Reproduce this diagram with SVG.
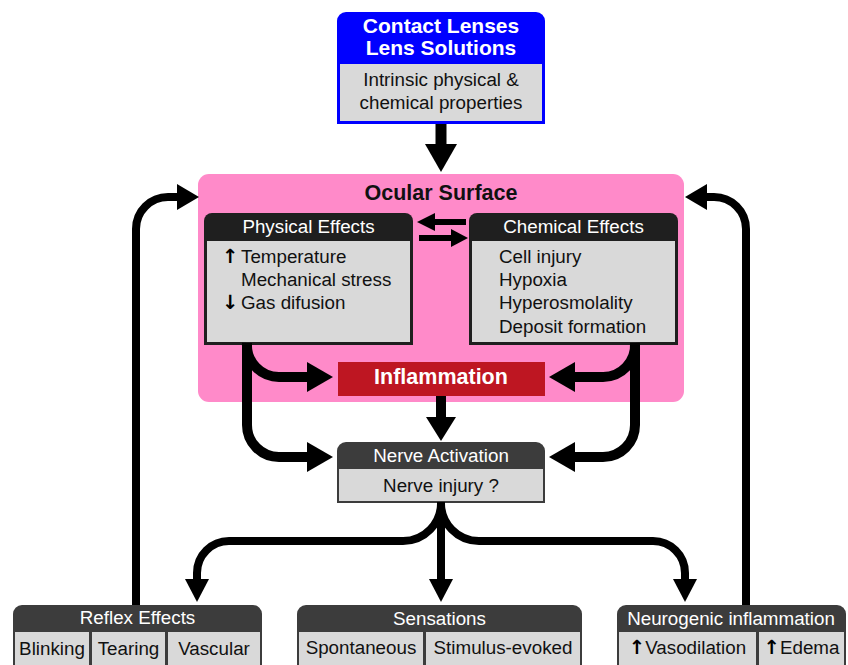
<svg xmlns="http://www.w3.org/2000/svg" width="848" height="665" viewBox="0 0 848 665">
<style>
text{font-family:"Liberation Sans",Arial,sans-serif;font-size:18.8px;fill:#111}
.hd{fill:#fff;text-anchor:middle}
.bt{fill:#fff;font-weight:bold;font-size:21.5px;text-anchor:middle}
.c{text-anchor:middle}
.cell{fill:#d9d9d9}
.dark1{fill:#1f1f1f}
.dark2{fill:#3c3c3c}
.ar{font-family:"DejaVu Sans",sans-serif;font-weight:bold;font-size:19.5px;fill:#000}
.sh{fill:none;stroke:#000;stroke-width:10}
.sh2{fill:none;stroke:#000;stroke-width:8}
.hdp{fill:#000}
</style>
<rect width="848" height="665" fill="#fff"/>

<g id="ocular-surface">
<rect x="198" y="174" width="486" height="228" rx="11" fill="#ff8ac9"/>
<text x="441" y="200" class="c" style="font-weight:bold;font-size:21.5px">Ocular Surface</text>
</g>

<g id="contact-lenses">
<path d="M337,124 V21 A9,9 0 0 1 346,12 H536 A9,9 0 0 1 545,21 V124 Z" fill="#0000ff"/>
<rect x="340" y="64" width="202" height="57" class="cell"/>
<text x="441" y="32.5" class="bt" style="font-size:21px">Contact Lenses</text>
<text x="441" y="54.5" class="bt" style="font-size:21px">Lens Solutions</text>
<text x="441" y="86" class="c">Intrinsic physical &amp;</text>
<text x="441" y="109" class="c">chemical properties</text>
</g>

<g id="physical-effects">
<path d="M204,345 V221 A8,8 0 0 1 212,213 H405 A8,8 0 0 1 413,221 V345 Z" class="dark1"/>
<rect x="207" y="241" width="203" height="101" class="cell"/>
<text x="308.5" y="233" class="hd">Physical Effects</text>
<text x="222" y="263"><tspan class="ar">↑</tspan><tspan x="241">Temperature</tspan></text>
<text x="241" y="286">Mechanical stress</text>
<text x="222" y="309"><tspan class="ar">↓</tspan><tspan x="241">Gas difusion</tspan></text>
</g>

<g id="chemical-effects">
<path d="M469,345 V221 A8,8 0 0 1 477,213 H670 A8,8 0 0 1 678,221 V345 Z" class="dark1"/>
<rect x="472" y="241" width="203" height="101" class="cell"/>
<text x="573.5" y="233" class="hd">Chemical Effects</text>
<text x="499" y="263">Cell injury</text>
<text x="499" y="286">Hypoxia</text>
<text x="499" y="309">Hyperosmolality</text>
<text x="499" y="333">Deposit formation</text>
</g>

<g id="inflammation">
<rect x="338" y="362" width="207" height="34" fill="#be1622"/>
<text x="441" y="384" class="bt">Inflammation</text>
</g>

<g id="nerve-activation">
<path d="M337,503 V451 A9,9 0 0 1 346,442 H536 A9,9 0 0 1 545,451 V503 Z" class="dark2"/>
<rect x="339" y="469" width="204" height="32" class="cell"/>
<text x="441" y="462" class="hd">Nerve Activation</text>
<text x="441" y="492" class="c">Nerve injury ?</text>
</g>

<g id="reflex-effects">
<path d="M13,670 V614 A9,9 0 0 1 22,605 H253 A9,9 0 0 1 262,614 V670 Z" class="dark2"/>
<rect x="15" y="632" width="74" height="40" class="cell"/>
<rect x="92" y="632" width="73" height="40" class="cell"/>
<rect x="168" y="632" width="92" height="40" class="cell"/>
<text x="137.5" y="624" class="hd">Reflex Effects</text>
<text x="52" y="655" class="c">Blinking</text>
<text x="128.5" y="655" class="c">Tearing</text>
<text x="214" y="655" class="c">Vascular</text>
</g>

<g id="sensations">
<path d="M297,670 V614 A9,9 0 0 1 306,605 H573 A9,9 0 0 1 582,614 V670 Z" class="dark2"/>
<rect x="299" y="632" width="124" height="40" class="cell"/>
<rect x="426" y="632" width="154" height="40" class="cell"/>
<text x="439.5" y="625" class="hd">Sensations</text>
<text x="361" y="654" class="c">Spontaneous</text>
<text x="503" y="654" class="c">Stimulus-evoked</text>
</g>

<g id="neurogenic-inflammation">
<path d="M617,670 V614 A9,9 0 0 1 626,605 H837 A9,9 0 0 1 846,614 V670 Z" class="dark2"/>
<rect x="619" y="632" width="137" height="40" class="cell"/>
<rect x="759" y="632" width="85" height="40" class="cell"/>
<text x="731" y="625" class="hd">Neurogenic inflammation</text>
<text x="687.5" y="654" class="c"><tspan class="ar">↑</tspan>Vasodilation</text>
<text x="801.5" y="654" class="c"><tspan class="ar">↑</tspan>Edema</text>
</g>

<g id="connectors">
<path d="M441,124 V146" class="sh" style="stroke-width:11"/>
<polygon points="425,144 457,144 441,172" class="hdp"/>
<path d="M466,222 H432" class="sh" style="stroke-width:6"/>
<polygon points="435,213 435,231 417,222" class="hdp"/>
<path d="M419,238 H453" class="sh" style="stroke-width:6"/>
<polygon points="451,229 451,247 468,238" class="hdp"/>
<path d="M247,343 A32,32 0 0 0 279,377 H310" class="sh"/>
<polygon points="307,362 307,392 333,377" class="hdp"/>
<path d="M247,343 V425 A32,32 0 0 0 279,457 H310" class="sh"/>
<polygon points="307,442 307,472 333,457" class="hdp"/>
<path d="M635,343 A32,32 0 0 1 603,377 H572" class="sh"/>
<polygon points="575,362 575,392 549,377" class="hdp"/>
<path d="M635,343 V425 A32,32 0 0 1 603,457 H572" class="sh"/>
<polygon points="575,442 575,472 549,457" class="hdp"/>
<path d="M441,396 V420" class="sh"/>
<polygon points="426,417 456,417 441,441" class="hdp"/>
<path d="M441,502 V582" class="sh2"/>
<polygon points="429,579 453,579 441,602" class="hdp"/>
<path d="M441,502 A38,38 0 0 1 403,541 H229 A32,32 0 0 0 197,573 V582" class="sh2"/>
<polygon points="185,579 209,579 197,602" class="hdp"/>
<path d="M441,502 A38,38 0 0 0 479,541 H653 A32,32 0 0 1 685,573 V582" class="sh2"/>
<polygon points="673,579 697,579 685,602" class="hdp"/>
<path d="M136,605 V229 A32,32 0 0 1 168,197 H180" class="sh2"/>
<polygon points="177,184 177,210 199,197" class="hdp"/>
<path d="M746,605 V229 A32,32 0 0 0 714,197 H704" class="sh2"/>
<polygon points="707,184 707,210 685,197" class="hdp"/>
</g>
</svg>
